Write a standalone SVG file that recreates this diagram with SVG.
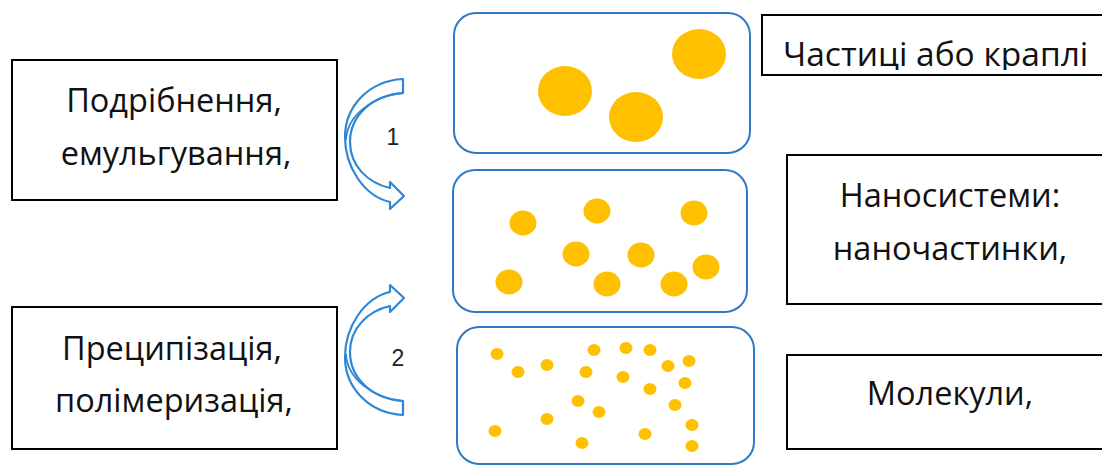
<svg xmlns="http://www.w3.org/2000/svg" width="1102" height="466" viewBox="0 0 1102 466">
  <defs>
    <style>
      .lbl { fill: none; stroke: #000; stroke-width: 2; }
      .tube { fill: #fff; stroke: #2e7ac4; stroke-width: 2; }
      .dot { fill: #ffc000; }
      .txt { font-family: "Open Sans", "Noto Sans", "DejaVu Sans", sans-serif; font-size: 32.5px; fill: #111; text-anchor: middle; }
      .num { font-family: "Liberation Sans", Arial, sans-serif; font-size: 23px; fill: #222; text-anchor: middle; }
      .arr { fill: #fff; stroke: #2e86d6; stroke-width: 2.2; stroke-linejoin: round; }
      .arrln { fill: none; stroke: #2e86d6; stroke-width: 1.8; }
    </style>
    <clipPath id="clipTop">
      <rect x="762" y="15" width="340" height="55"/>
    </clipPath>
    <path id="curvArr" d="M 403,79 C 368,81 345,107 345,137 C 345,167 364,196 390,202 L 390,209 L 404,196 L 390,182 L 390,188 C 368,183 350,166 350,142 C 350,116 372,95 403,93 Z"/>
  </defs>

  <g id="connectors">
    <g id="arrow-1">
      <use href="#curvArr" class="arr"/>
      <path class="arrln" d="M 403,93 C 372,96 347,116 346,140"/>
      <text class="num" x="393" y="145">1</text>
    </g>
    <g id="arrow-2">
      <use href="#curvArr" class="arr" transform="matrix(1,0,0,-1,0,494)"/>
      <path class="arrln" d="M 403,93 C 372,96 347,116 346,140" transform="matrix(1,0,0,-1,0,494)"/>
      <text class="num" x="398" y="366">2</text>
    </g>
  </g>

  <g id="node-crushing">
    <rect class="lbl" x="12" y="60" width="325" height="140"/>
    <text class="txt" x="174" y="112">Подрібнення,</text>
    <text class="txt" x="176" y="165">емульгування,</text>
  </g>

  <g id="node-precipitation">
    <rect class="lbl" x="12" y="307" width="325" height="142"/>
    <text class="txt" x="172" y="360">Преципізація,</text>
    <text class="txt" x="174" y="412">полімеризація,</text>
  </g>

  <g id="node-large">
    <rect class="tube" x="454" y="13" width="296" height="140" rx="22"/>
    <ellipse class="dot" cx="565" cy="91" rx="27" ry="25"/>
    <ellipse class="dot" cx="636" cy="117" rx="27" ry="25"/>
    <ellipse class="dot" cx="699" cy="54" rx="27" ry="25"/>
  </g>

  <g id="node-nano">
    <rect class="tube" x="453" y="170" width="294" height="142" rx="22"/>
    <ellipse class="dot" cx="523" cy="223" rx="13.5" ry="12.5"/>
    <ellipse class="dot" cx="597" cy="211" rx="13.5" ry="12.5"/>
    <ellipse class="dot" cx="694" cy="213" rx="13.5" ry="12.5"/>
    <ellipse class="dot" cx="576" cy="254" rx="13.5" ry="12.5"/>
    <ellipse class="dot" cx="641" cy="255" rx="13.5" ry="12.5"/>
    <ellipse class="dot" cx="509" cy="282" rx="13.5" ry="12.5"/>
    <ellipse class="dot" cx="607" cy="284" rx="13.5" ry="12.5"/>
    <ellipse class="dot" cx="674" cy="284" rx="13.5" ry="12.5"/>
    <ellipse class="dot" cx="706" cy="267" rx="13.5" ry="12.5"/>
  </g>

  <g id="node-molecules">
    <rect class="tube" x="457" y="327" width="297" height="137" rx="22"/>
    <ellipse class="dot" cx="497" cy="354" rx="6.5" ry="6"/>
    <ellipse class="dot" cx="518" cy="372" rx="6.5" ry="6"/>
    <ellipse class="dot" cx="547" cy="365" rx="6.5" ry="6"/>
    <ellipse class="dot" cx="594" cy="350" rx="6.5" ry="6"/>
    <ellipse class="dot" cx="626" cy="348" rx="6.5" ry="6"/>
    <ellipse class="dot" cx="650" cy="350" rx="6.5" ry="6"/>
    <ellipse class="dot" cx="668" cy="366" rx="6.5" ry="6"/>
    <ellipse class="dot" cx="689" cy="361" rx="6.5" ry="6"/>
    <ellipse class="dot" cx="586" cy="372" rx="6.5" ry="6"/>
    <ellipse class="dot" cx="623" cy="377" rx="6.5" ry="6"/>
    <ellipse class="dot" cx="650" cy="389" rx="6.5" ry="6"/>
    <ellipse class="dot" cx="685" cy="383" rx="6.5" ry="6"/>
    <ellipse class="dot" cx="578" cy="401" rx="6.5" ry="6"/>
    <ellipse class="dot" cx="599" cy="412" rx="6.5" ry="6"/>
    <ellipse class="dot" cx="675" cy="405" rx="6.5" ry="6"/>
    <ellipse class="dot" cx="547" cy="419" rx="6.5" ry="6"/>
    <ellipse class="dot" cx="495" cy="431" rx="6.5" ry="6"/>
    <ellipse class="dot" cx="582" cy="443" rx="6.5" ry="6"/>
    <ellipse class="dot" cx="645" cy="434" rx="6.5" ry="6"/>
    <ellipse class="dot" cx="692" cy="425" rx="6.5" ry="6"/>
    <ellipse class="dot" cx="692" cy="446" rx="6.5" ry="6"/>
  </g>

  <g id="node-particles-label">
    <rect class="lbl" x="762" y="15" width="360" height="60"/>
    <text class="txt" x="783" y="66" clip-path="url(#clipTop)" style="text-anchor:start;font-size:33.5px">Частиці або краплі</text>
  </g>

  <g id="node-nanosystems-label">
    <rect class="lbl" x="787" y="155" width="340" height="149"/>
    <text class="txt" x="950" y="207">Наносистеми:</text>
    <text class="txt" x="950" y="260">наночастинки,</text>
  </g>

  <g id="node-molecules-label">
    <rect class="lbl" x="787" y="355" width="340" height="94"/>
    <text class="txt" x="950" y="405">Молекули,</text>
  </g>
</svg>
